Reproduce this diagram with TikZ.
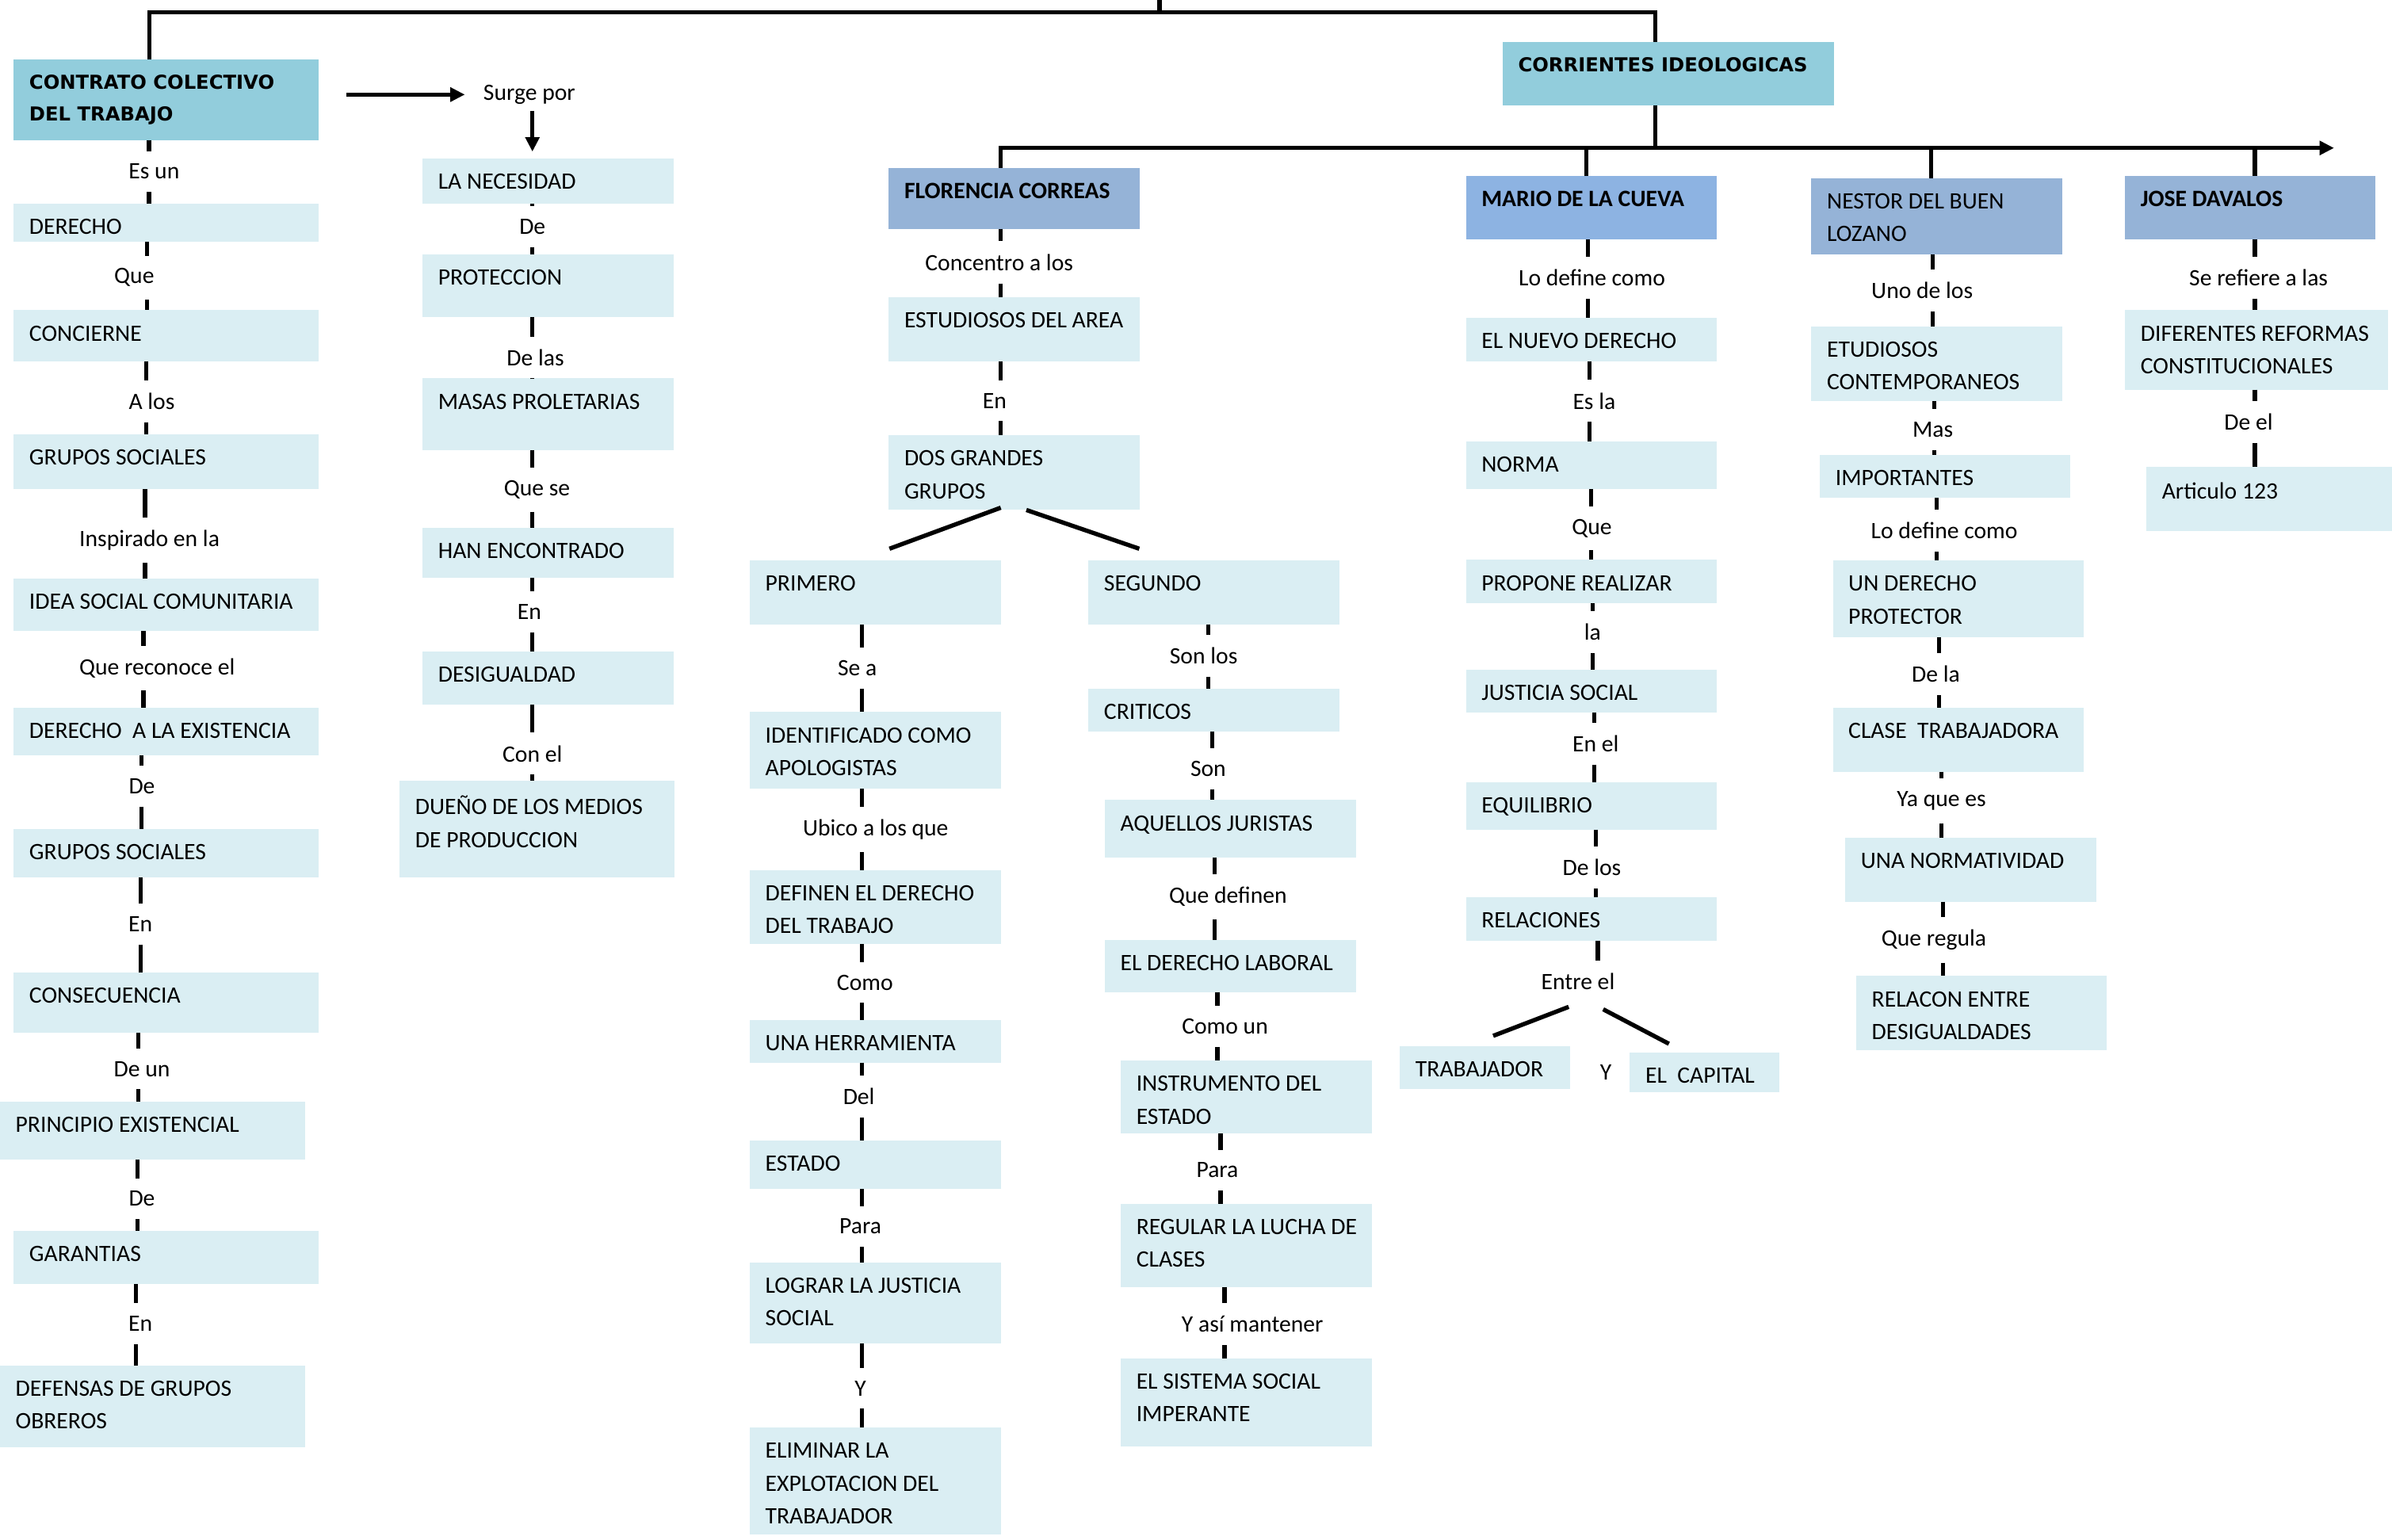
\documentclass[tikz,border=0pt]{standalone}
\usepackage{fontspec}
\setmainfont{Carlito}
\newfontfamily\headfont{DejaVu Sans}
\usepackage{tikz}
\usetikzlibrary{arrows.meta}

\definecolor{cellblue}{HTML}{DAEEF3}
\definecolor{headteal}{HTML}{92CDDC}
\definecolor{headsteel}{HTML}{95B3D7}
\definecolor{headsky}{HTML}{8DB3E2}

% box with its text in the upper left corner
\newcommand{\cbox}[6]{%
  \node[#2, minimum width=#4, minimum height=#5, anchor=north west] (#1) at (#3) {};
  \node[#2txt, anchor=north west] (#1-t) at ([xshift=10pt, yshift=-9.9pt]#1.north west) {#6};}

% thick link broken by its label
\newcommand{\link}[4]{%
  \draw[link] (#1.south -| #4,0) -- (#2.north -| #4,0);
  \draw[link] (#2.south -| #4,0) -- (#3.north -| #4,0);}

\begin{document}
\begin{tikzpicture}[x=1pt, y=-1pt,
    cell/.style={fill=cellblue, inner sep=0pt, outer sep=0pt},
    heada/.style={cell, fill=headteal},
    headb/.style={cell, fill=headsteel},
    headm/.style={cell, fill=headsky},
    headn/.style={cell, fill=headsteel},
    celltxt/.style={font=\fontsize{15.4}{21.5}\selectfont, align=left, inner sep=0pt},
    headatxt/.style={font=\fontsize{12.6}{20.7}\selectfont\headfont\bfseries, align=left, inner sep=0pt},
    headbtxt/.style={celltxt, font=\fontsize{15.4}{21.5}\selectfont\bfseries},
    headmtxt/.style={headbtxt},
    headntxt/.style={celltxt},
    lbl/.style={font=\fontsize{15.4}{18}\selectfont, inner xsep=2pt, inner ysep=8.2pt},
    link/.style={line width=2.8pt},
    bus/.style={line width=2.8pt},
    tip/.style={-{Triangle[length=9.5pt, width=9pt]}}]

    \useasboundingbox (0,0) rectangle (1568,1009);

    % Contrato colectivo
    \cbox{contrato}{heada}{9,39}{200}{53}{CONTRATO COLECTIVO\\DEL TRABAJO}
    \cbox{derecho}{cell}{9,133.6}{200}{25}{DERECHO}
    \cbox{concierne}{cell}{9,203.4}{200}{33.4}{CONCIERNE}
    \cbox{grupos}{cell}{9,284.8}{200}{36}{GRUPOS SOCIALES}
    \cbox{idea}{cell}{9,379.2}{200}{34.5}{IDEA SOCIAL COMUNITARIA}
    \cbox{existencia}{cell}{9,463.9}{200}{31.4}{DERECHO\ \ A LA EXISTENCIA}
    \cbox{gruposb}{cell}{9,543.5}{200}{31.8}{GRUPOS SOCIALES}
    \cbox{consecuencia}{cell}{9,637.5}{200}{39.7}{CONSECUENCIA}
    \cbox{principio}{cell}{0,722}{200}{38}{PRINCIPIO EXISTENCIAL}
    \cbox{garantias}{cell}{9,807}{200}{34.8}{GARANTIAS}
    \cbox{defensas}{cell}{0,895}{200}{53.5}{DEFENSAS DE GRUPOS\\OBREROS}

    \node[lbl] (esun) at (101,112.4) {Es un};
    \node[lbl] (que) at (88,182) {Que};
    \node[lbl] (alos) at (99.5,263) {A los};
    \node[lbl] (inspirado) at (98,354) {Inspirado en la};
    \node[lbl] (reconoce) at (103,438) {Que reconoce el};
    \node[lbl] (dea) at (93,515.3) {De};
    \node[lbl] (ena) at (92,605.8) {En};
    \node[lbl] (deun) at (93,700.7) {De un};
    \node[lbl] (deb) at (93,785.7) {De};
    \node[lbl] (enb) at (92,867.7) {En};

    \link{contrato}{esun}{derecho}{97.7}
    \link{derecho}{que}{concierne}{96.5}
    \link{concierne}{alos}{grupos}{95.8}
    \link{grupos}{inspirado}{idea}{95}
    \link{idea}{reconoce}{existencia}{94}
    \link{existencia}{dea}{gruposb}{92.8}
    \link{gruposb}{ena}{consecuencia}{92.2}
    \link{consecuencia}{deun}{principio}{90.7}
    \link{principio}{deb}{garantias}{90}
    \link{garantias}{enb}{defensas}{89}

    % Surge por
    \cbox{necesidad}{cell}{277,103.9}{164.8}{29.5}{LA NECESIDAD}
    \cbox{proteccion}{cell}{277,166.7}{164.8}{41.3}{PROTECCION}
    \cbox{masas}{cell}{277,248}{164.8}{47}{MASAS PROLETARIAS}
    \cbox{han}{cell}{277,345.8}{164.8}{33}{HAN ENCONTRADO}
    \cbox{desigualdad}{cell}{277,427}{164.8}{35}{DESIGUALDAD}
    \cbox{dueno}{cell}{262,511.7}{180}{63.6}{DUEÑO DE LOS MEDIOS\\DE PRODUCCION}

    \node[lbl] (surge) at (347,62) {Surge por};
    \node[lbl] (dec) at (349,148.6) {De};
    \node[lbl] (delas) at (351,234.7) {De las};
    \node[lbl] (quese) at (352,321) {Que se};
    \node[lbl] (enc) at (347,401) {En};
    \node[lbl] (conel) at (349,494) {Con el};

    \draw[bus, tip, shorten <=18pt, shorten >=10pt] (contrato.east |- surge) -- (surge);
    \draw[bus, tip, shorten <=-4pt, shorten >=4.5pt] (surge.south -| 349,0) -- (necesidad.north -| 349,0);
    \link{necesidad}{dec}{proteccion}{349}
    \link{proteccion}{delas}{masas}{349}
    \link{masas}{quese}{han}{349}
    \link{han}{enc}{desigualdad}{349}
    \link{desigualdad}{conel}{dueno}{349}

    % Corrientes ideologicas
    \cbox{corrientes}{heada}{985,27.6}{217}{41.7}{CORRIENTES IDEOLOGICAS}

    % Florencia Correas
    \cbox{florencia}{headb}{582.6,110}{164.4}{40}{FLORENCIA CORREAS}
    \cbox{estudiosos}{cell}{582.6,194.8}{164.4}{42}{ESTUDIOSOS DEL AREA}
    \cbox{dos}{cell}{582.6,285.3}{164.4}{49}{DOS GRANDES\\GRUPOS}
    \cbox{primero}{cell}{491.5,367.3}{164.5}{42}{PRIMERO}
    \cbox{identificado}{cell}{491.5,466.8}{164.5}{50.4}{IDENTIFICADO COMO\\APOLOGISTAS}
    \cbox{definen}{cell}{491.5,570.4}{164.5}{48.6}{DEFINEN EL DERECHO\\DEL TRABAJO}
    \cbox{herramienta}{cell}{491.5,668.7}{164.5}{27.8}{UNA HERRAMIENTA}
    \cbox{estado}{cell}{491.5,747.7}{164.5}{31.8}{ESTADO}
    \cbox{lograr}{cell}{491.5,827.6}{164.5}{53}{LOGRAR LA JUSTICIA\\SOCIAL}
    \cbox{eliminar}{cell}{491.5,935.8}{164.5}{70.2}{ELIMINAR LA\\EXPLOTACION DEL\\TRABAJADOR}
    \cbox{segundo}{cell}{713.5,367.3}{164.5}{42}{SEGUNDO}
    \cbox{criticos}{cell}{713.5,451.4}{164.5}{28.3}{CRITICOS}
    \cbox{aquellos}{cell}{724.2,524.4}{164.8}{37.6}{AQUELLOS JURISTAS}
    \cbox{laboral}{cell}{724.2,616.3}{164.8}{34}{EL DERECHO LABORAL}
    \cbox{instrumento}{cell}{734.7,695.3}{164.8}{47.7}{INSTRUMENTO DEL\\ESTADO}
    \cbox{regular}{cell}{734.7,789}{164.8}{54.6}{REGULAR LA LUCHA DE\\CLASES}
    \cbox{sistema}{cell}{734.7,890.4}{164.8}{57.6}{EL SISTEMA SOCIAL\\IMPERANTE}

    \node[lbl] (concentro) at (655,172) {Concentro a los};
    \node[lbl] (enf) at (652,262.7) {En};
    \node[lbl] (sea) at (562,438) {Se a};
    \node[lbl] (ubico) at (574,543.7) {Ubico a los que};
    \node[lbl] (como) at (567,644) {Como};
    \node[lbl] (del) at (563,718.7) {Del};
    \node[lbl] (para) at (564,804) {Para};
    \node[lbl] (yf) at (564,910) {Y};
    \node[lbl] (sonlos) at (789,430) {Son los};
    \node[lbl] (son) at (792,504) {Son};
    \node[lbl] (quedefinen) at (805,587.7) {Que definen};
    \node[lbl] (comoun) at (803,672.8) {Como un};
    \node[lbl] (paras) at (798,767) {Para};
    \node[lbl] (yasi) at (821,868) {Y así mantener};

    \link{florencia}{concentro}{estudiosos}{656}
    \link{estudiosos}{enf}{dos}{656}
    \draw[bus] ([xshift=-8.8pt, yshift=1.5pt]dos.south) -- ([xshift=9.3pt, yshift=7.6pt]primero.north);
    \draw[bus] ([xshift=8pt]dos.south) -- ([xshift=33.3pt, yshift=7.6pt]segundo.north west);
    \link{primero}{sea}{identificado}{565}
    \link{identificado}{ubico}{definen}{565}
    \link{definen}{como}{herramienta}{565}
    \link{herramienta}{del}{estado}{565}
    \link{estado}{para}{lograr}{565}
    \link{lograr}{yf}{eliminar}{565}
    \link{segundo}{sonlos}{criticos}{792}
    \link{criticos}{son}{aquellos}{794.5}
    \link{aquellos}{quedefinen}{laboral}{796.3}
    \link{laboral}{comoun}{instrumento}{798}
    \link{instrumento}{paras}{regular}{800}
    \link{regular}{yasi}{sistema}{802.6}

    % Mario de la Cueva
    \cbox{mario}{headm}{961,115.3}{164.4}{41.8}{MARIO DE LA CUEVA}
    \cbox{nuevo}{cell}{961,208.3}{164.4}{28.4}{EL NUEVO DERECHO}
    \cbox{norma}{cell}{961,289.5}{164.4}{31.3}{NORMA}
    \cbox{propone}{cell}{961,367}{164.4}{28.5}{PROPONE REALIZAR}
    \cbox{justicia}{cell}{961,439}{164.4}{28.2}{JUSTICIA SOCIAL}
    \cbox{equilibrio}{cell}{961,512.6}{164.4}{31.2}{EQUILIBRIO}
    \cbox{relaciones}{cell}{961,588.2}{164.4}{28.4}{RELACIONES}
    \cbox{trabajador}{cell}{917.7,685.8}{111.4}{28}{TRABAJADOR}
    \cbox{capital}{cell}{1068.4,690}{98}{25.8}{EL\ \ CAPITAL}

    \node[lbl] (lodefine) at (1043.5,182) {Lo define como};
    \node[lbl] (esla) at (1045,262.8) {Es la};
    \node[lbl] (quem) at (1043.5,346.3) {Que};
    \node[lbl] (la) at (1044,414.4) {la};
    \node[lbl] (enel) at (1046,487.4) {En el};
    \node[lbl] (delos) at (1043.5,568.5) {De los};
    \node[lbl] (entre) at (1034.4,643.5) {Entre el};
    \node[lbl] (ym) at (1052.6,703) {Y};

    \link{mario}{lodefine}{nuevo}{1041}
    \link{nuevo}{esla}{norma}{1042}
    \link{norma}{quem}{propone}{1043}
    \link{propone}{la}{justicia}{1044}
    \link{justicia}{enel}{equilibrio}{1045}
    \link{equilibrio}{delos}{relaciones}{1046}
    \draw[link] (relaciones.south -| 1047.4,0) -- (entre.north -| 1047.4,0);
    \draw[bus] ([xshift=-6.1pt, yshift=-16.5pt]entre.center) -- ([xshift=5.4pt, yshift=6.8pt]trabajador.north);
    \draw[bus] ([xshift=16.5pt, yshift=-18.1pt]entre.center) -- ([xshift=-23.4pt, yshift=5.8pt]capital.north);

    % Nestor del Buen Lozano
    \cbox{nestor}{headn}{1187.4,116.8}{164.3}{50.2}{NESTOR DEL BUEN\\LOZANO}
    \cbox{etudiosos}{cell}{1187.4,214}{164.3}{49}{ETUDIOSOS\\CONTEMPORANEOS}
    \cbox{importantes}{cell}{1193,298}{164.3}{28.4}{IMPORTANTES}
    \cbox{protector}{cell}{1201.5,367.3}{164.3}{50.2}{UN DERECHO\\PROTECTOR}
    \cbox{clase}{cell}{1201.5,464}{164.3}{41.8}{CLASE\ \ TRABAJADORA}
    \cbox{normatividad}{cell}{1209.6,549}{164.4}{42}{UNA NORMATIVIDAD}
    \cbox{relacon}{cell}{1216.8,639.8}{164.4}{48.5}{RELACON ENTRE\\DESIGUALDADES}

    \node[lbl] (unodelos) at (1260,190.5) {Uno de los};
    \node[lbl] (mas) at (1267,281.7) {Mas};
    \node[lbl] (lodefinen) at (1274.5,347.9) {Lo define como};
    \node[lbl] (dela) at (1269,442) {De la};
    \node[lbl] (yaque) at (1272.7,525) {Ya que es};
    \node[lbl] (queregula) at (1267.7,616) {Que regula};

    \link{nestor}{unodelos}{etudiosos}{1267}
    \link{etudiosos}{mas}{importantes}{1268}
    \link{importantes}{lodefinen}{protector}{1269.4}
    \link{protector}{dela}{clase}{1271}
    \link{clase}{yaque}{normatividad}{1272.5}
    \link{normatividad}{queregula}{relacon}{1273.6}

    % Jose Davalos
    \cbox{jose}{headb}{1393,115.3}{164.3}{41.8}{JOSE DAVALOS}
    \cbox{diferentes}{cell}{1393,203.4}{172.6}{52}{DIFERENTES REFORMAS\\CONSTITUCIONALES}
    \cbox{articulo}{cell}{1407,306}{161}{42}{Articulo 123}

    \node[lbl] (serefiere) at (1480.5,182) {Se refiere a las};
    \node[lbl] (deel) at (1474,276.6) {De el};

    \link{jose}{serefiere}{diferentes}{1478}
    \link{diferentes}{deel}{articulo}{1478}

    % top frame and bus
    \coordinate (topbar) at (760,8);
    \coordinate (busr) at (1530,97);
    \draw[bus] (contrato.north -| 98,0) |- (topbar) -| (corrientes.north -| 1085,0);
    \draw[bus] (topbar) -- (760,-5);
    \draw[bus] (corrientes.south -| 1085,0) -- (busr -| 1085,0);
    \draw[bus, tip] (florencia.north -| 656,0) |- (busr);
    \foreach \n/\x in {mario/1040, nestor/1266, jose/1478}
        \draw[bus] (busr -| \x,0) -- (\n.north -| \x,0);
\end{tikzpicture}
\end{document}
